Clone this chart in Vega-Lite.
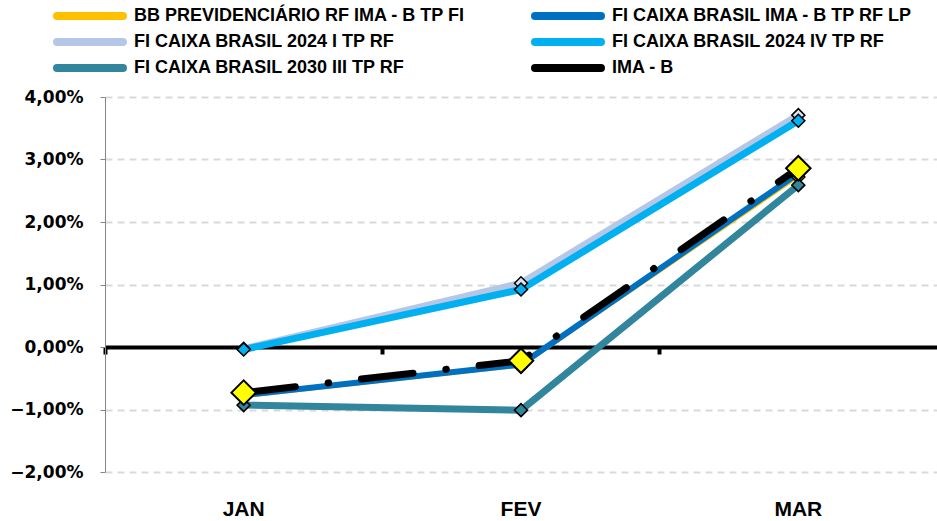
{
  "$schema": "https://vega.github.io/schema/vega-lite/v6.json",
  "width": 832,
  "height": 375,
  "autosize": {"type": "none"},
  "padding": {"left": 105, "top": 97, "right": 0, "bottom": 49},
  "background": "white",
  "config": {"view": {"stroke": null}},
  "data": {"values": [
    {"mes": "JAN", "serie": "BB PREVIDENCIÁRIO RF IMA - B TP FI", "valor": -0.80},
    {"mes": "FEV", "serie": "BB PREVIDENCIÁRIO RF IMA - B TP FI", "valor": -0.31},
    {"mes": "MAR", "serie": "BB PREVIDENCIÁRIO RF IMA - B TP FI", "valor": 2.72},
    {"mes": "JAN", "serie": "FI CAIXA BRASIL IMA - B TP RF LP", "valor": -0.77},
    {"mes": "FEV", "serie": "FI CAIXA BRASIL IMA - B TP RF LP", "valor": -0.28},
    {"mes": "MAR", "serie": "FI CAIXA BRASIL IMA - B TP RF LP", "valor": 2.78},
    {"mes": "JAN", "serie": "FI CAIXA BRASIL 2024 I TP RF", "valor": -0.03},
    {"mes": "FEV", "serie": "FI CAIXA BRASIL 2024 I TP RF", "valor": 1.02},
    {"mes": "MAR", "serie": "FI CAIXA BRASIL 2024 I TP RF", "valor": 3.71},
    {"mes": "JAN", "serie": "FI CAIXA BRASIL 2024 IV TP RF", "valor": -0.04},
    {"mes": "FEV", "serie": "FI CAIXA BRASIL 2024 IV TP RF", "valor": 0.92},
    {"mes": "MAR", "serie": "FI CAIXA BRASIL 2024 IV TP RF", "valor": 3.62},
    {"mes": "JAN", "serie": "FI CAIXA BRASIL 2030 III TP RF", "valor": -0.93},
    {"mes": "FEV", "serie": "FI CAIXA BRASIL 2030 III TP RF", "valor": -1.01},
    {"mes": "MAR", "serie": "FI CAIXA BRASIL 2030 III TP RF", "valor": 2.59},
    {"mes": "JAN", "serie": "IMA - B", "valor": -0.73},
    {"mes": "FEV", "serie": "IMA - B", "valor": -0.22},
    {"mes": "MAR", "serie": "IMA - B", "valor": 2.86}
  ]},
  "resolve": {"axis": {"x": "independent"}},
  "layer": [
    {
      "transform": [{"filter": "datum.serie === 'BB PREVIDENCIÁRIO RF IMA - B TP FI'"}],
      "mark": {"type": "line", "strokeWidth": 2.5},
      "encoding": {
        "x": {"field": "mes", "type": "ordinal", "sort": ["JAN", "FEV", "MAR"], "bandPosition": 0.5,
          "scale": {"type": "band", "paddingInner": 0, "paddingOuter": 0},
          "axis": {"title": null, "orient": "bottom", "domain": false, "ticks": false, "labelAngle": 0, "labelPadding": 26,
            "labelFont": "Liberation Sans", "labelFontWeight": "bold", "labelFontSize": 21, "labelColor": "black", "grid": false}},
        "y": {"field": "valor", "type": "quantitative",
          "scale": {"domain": [-2, 4], "nice": false, "zero": false},
          "axis": {"title": null, "values": [-2, -1, 0, 1, 2, 3, 4],
            "labelExpr": "replace(format(datum.value, '.2f'), '.', ',') + '%'",
            "labelFont": "DejaVu Sans", "labelFontWeight": "bold", "labelFontSize": 17, "labelColor": "black", "labelPadding": 17,
            "domainColor": "#868686", "domainWidth": 1, "tickColor": "#868686", "tickSize": 5, "tickWidth": 1,
            "grid": true, "gridColor": "#D9D9D9", "gridWidth": 2, "gridDash": [7, 5]}},
        "color": {"field": "serie", "type": "nominal",
          "scale": {"domain": ["BB PREVIDENCIÁRIO RF IMA - B TP FI", "FI CAIXA BRASIL 2024 I TP RF", "FI CAIXA BRASIL 2030 III TP RF", "FI CAIXA BRASIL IMA - B TP RF LP", "FI CAIXA BRASIL 2024 IV TP RF", "IMA - B"],
            "range": ["#FFC000", "#B4C7E7", "#31859C", "#0070C0", "#00B0F0", "#000000"]},
          "legend": {"title": null, "orient": "none", "legendX": -24, "legendY": -90, "columns": 2, "padding": 0,
            "symbolType": "M-8,0H8", "symbolSize": 68, "symbolStrokeWidth": 8, "labelOffset": 35,
            "labelFont": "Liberation Sans", "labelFontWeight": "bold", "labelFontSize": 18, "labelColor": "black", "labelLimit": 0,
            "columnPadding": 53, "rowPadding": -6,
            "encode": {"symbols": {"update": {"strokeCap": {"value": "round"}}}}}}
      }
    },
    {
      "transform": [{"filter": "datum.serie === 'FI CAIXA BRASIL IMA - B TP RF LP'"}],
      "mark": {"type": "line", "strokeWidth": 6},
      "encoding": {
        "x": {"field": "mes", "type": "ordinal", "sort": ["JAN", "FEV", "MAR"], "bandPosition": 0.5,
          "axis": {"title": null, "orient": "bottom", "offset": -125, "labels": false, "grid": false, "bandPosition": 0,
            "domainColor": "black", "domainWidth": 4, "tickColor": "black", "tickWidth": 4, "tickSize": 7}},
        "y": {"field": "valor", "type": "quantitative"},
        "color": {"field": "serie", "type": "nominal"}
      }
    },
    {
      "transform": [{"filter": "datum.serie === 'FI CAIXA BRASIL 2024 I TP RF'"}],
      "mark": {"type": "line", "strokeWidth": 7},
      "encoding": {
        "x": {"field": "mes", "type": "ordinal", "sort": ["JAN", "FEV", "MAR"], "bandPosition": 0.5, "axis": null},
        "y": {"field": "valor", "type": "quantitative"},
        "color": {"field": "serie", "type": "nominal"}
      }
    },
    {
      "transform": [{"filter": "datum.serie === 'FI CAIXA BRASIL 2024 IV TP RF'"}],
      "mark": {"type": "line", "strokeWidth": 7},
      "encoding": {
        "x": {"field": "mes", "type": "ordinal", "sort": ["JAN", "FEV", "MAR"], "bandPosition": 0.5, "axis": null},
        "y": {"field": "valor", "type": "quantitative"},
        "color": {"field": "serie", "type": "nominal"}
      }
    },
    {
      "transform": [{"filter": "datum.serie === 'FI CAIXA BRASIL 2030 III TP RF'"}],
      "mark": {"type": "line", "strokeWidth": 7},
      "encoding": {
        "x": {"field": "mes", "type": "ordinal", "sort": ["JAN", "FEV", "MAR"], "bandPosition": 0.5, "axis": null},
        "y": {"field": "valor", "type": "quantitative"},
        "color": {"field": "serie", "type": "nominal"}
      }
    },
    {
      "transform": [{"filter": "datum.serie !== 'IMA - B'"}],
      "mark": {"type": "point", "shape": "diamond", "filled": true, "size": 170, "stroke": "black", "strokeWidth": 1.5, "opacity": 1},
      "encoding": {
        "x": {"field": "mes", "type": "ordinal", "sort": ["JAN", "FEV", "MAR"], "bandPosition": 0.5, "axis": null},
        "y": {"field": "valor", "type": "quantitative"},
        "fill": {"field": "serie", "type": "nominal", "legend": null,
          "scale": {"domain": ["BB PREVIDENCIÁRIO RF IMA - B TP FI", "FI CAIXA BRASIL IMA - B TP RF LP", "FI CAIXA BRASIL 2024 I TP RF", "FI CAIXA BRASIL 2024 IV TP RF", "FI CAIXA BRASIL 2030 III TP RF"],
            "range": ["#FFC000", "#0070C0", "#DAE3F3", "#00B0F0", "#31859C"]}},
        "order": {"field": "serie", "sort": "ascending"}
      }
    },
    {
      "transform": [{"filter": "datum.serie === 'IMA - B'"}],
      "mark": {"type": "line", "strokeWidth": 7, "strokeDash": [52, 33, 0.5, 33], "strokeCap": "round"},
      "encoding": {
        "x": {"field": "mes", "type": "ordinal", "sort": ["JAN", "FEV", "MAR"], "bandPosition": 0.5, "axis": null},
        "y": {"field": "valor", "type": "quantitative"},
        "color": {"field": "serie", "type": "nominal"}
      }
    },
    {
      "transform": [{"filter": "datum.serie === 'IMA - B'"}],
      "mark": {"type": "point", "shape": "diamond", "filled": true, "size": 600, "fill": "#FFFF00", "stroke": "black", "strokeWidth": 2, "opacity": 1},
      "encoding": {
        "x": {"field": "mes", "type": "ordinal", "sort": ["JAN", "FEV", "MAR"], "bandPosition": 0.5, "axis": null},
        "y": {"field": "valor", "type": "quantitative"}
      }
    }
  ]
}
